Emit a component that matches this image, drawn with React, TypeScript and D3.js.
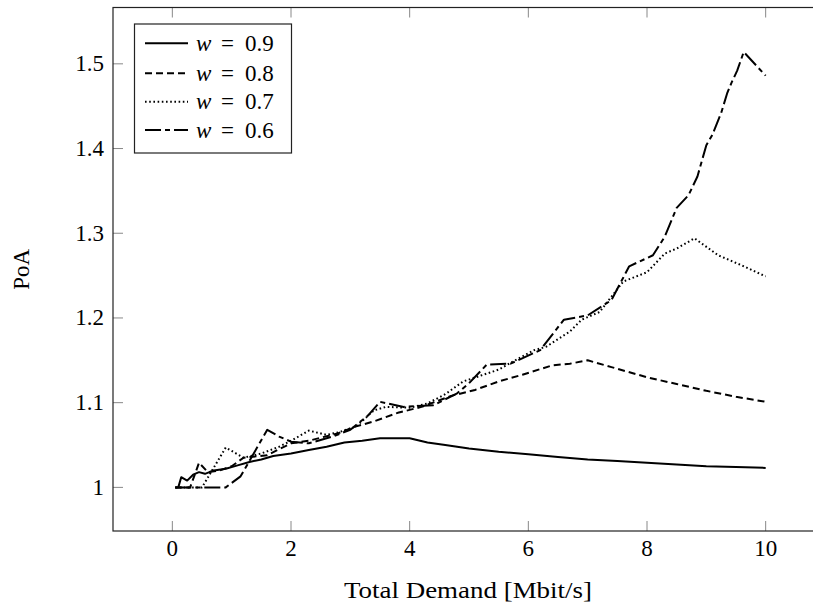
import React from "react";
import * as d3 from "d3";

const xTicks = [0, 2, 4, 6, 8, 10];
const yTicks = [1, 1.1, 1.2, 1.3, 1.4, 1.5];
const yTickLabels = ["1", "1.1", "1.2", "1.3", "1.4", "1.5"];

const labels = ["0.9", "0.8", "0.7", "0.6"];

const w09x = [0.05, 0.1, 0.15, 0.25, 0.35, 0.45, 0.55, 0.7, 0.9, 1.1, 1.3, 1.5, 1.7, 2.0, 2.3, 2.6, 2.9, 3.2, 3.5, 4.0, 4.3, 4.6, 5.0, 5.5, 6.0, 6.5, 7.0, 7.5, 8.0, 8.5, 9.0, 9.5, 10];
const w09y = [1.0, 1.0, 1.012, 1.008, 1.015, 1.018, 1.016, 1.02, 1.022, 1.026, 1.03, 1.033, 1.037, 1.04, 1.044, 1.048, 1.053, 1.055, 1.058, 1.058, 1.053, 1.05, 1.046, 1.042, 1.039, 1.036, 1.033, 1.031, 1.029, 1.027, 1.025, 1.024, 1.023];

const w08x = [0.05, 0.3, 0.45, 0.6, 0.8, 1.0, 1.2, 1.6, 2.0, 2.3, 2.8, 3.1, 3.4, 3.8, 4.2, 4.7, 5.1, 5.5, 5.9, 6.4, 6.7, 7.0, 7.4, 8.0, 8.5, 9.0, 9.5, 10];
const w08y = [1.0, 1.0, 1.029, 1.018, 1.02, 1.025, 1.035, 1.038, 1.052, 1.055, 1.064, 1.072, 1.078, 1.088, 1.095, 1.108, 1.115, 1.125, 1.133, 1.144, 1.146, 1.15, 1.142, 1.13, 1.122, 1.114, 1.107, 1.101];

const w07x = [0.05, 0.5, 0.9, 1.0, 1.2, 1.5, 1.8, 2.0, 2.3, 2.6, 2.8, 3.1, 3.4, 3.6, 4.0, 4.3, 4.6, 4.9, 5.2, 5.5, 5.7, 6.1, 6.3, 6.7, 6.9, 7.2, 7.6, 8.0, 8.3, 8.5, 8.8, 9.2, 9.6, 10];
const w07y = [1.0, 1.0, 1.047, 1.043, 1.035, 1.04, 1.048, 1.055, 1.067, 1.062, 1.065, 1.072, 1.091, 1.095, 1.094, 1.099, 1.11, 1.125, 1.132, 1.139, 1.147, 1.162, 1.166, 1.184, 1.198, 1.207, 1.243, 1.254, 1.276, 1.282, 1.294, 1.274, 1.262, 1.249];

const w06x = [0.05, 0.9, 1.15, 1.6, 1.8, 2.0, 2.3, 2.7, 3.0, 3.3, 3.5, 3.9, 4.4, 4.8, 5.0, 5.3, 5.7, 6.2, 6.6, 7.0, 7.4, 7.7, 8.1, 8.3, 8.5, 8.7, 8.85, 9.0, 9.1, 9.25, 9.35, 9.42, 9.52, 9.63, 10];
const w06y = [1.0, 1.0, 1.013, 1.068, 1.06, 1.054, 1.052, 1.06, 1.068, 1.085, 1.101, 1.095, 1.097, 1.111, 1.123, 1.145, 1.146, 1.162, 1.198, 1.203, 1.221, 1.261, 1.274, 1.296, 1.33, 1.345, 1.367, 1.404, 1.416, 1.442, 1.465, 1.477, 1.492, 1.514, 1.486];

const seriesX = [w09x, w08x, w07x, w06x];
const seriesY = [w09y, w08y, w07y, w06y];
const dashes = ["none", "7,4", "1.6,2.6", "16,4,5,4"];

const W = 813;
const H = 605;
const left = 113;
const right = 825;
const top = 7.5;
const bottom = 531;
const FONT = "'Liberation Serif', 'Times New Roman', serif";
const FS = 23;

export default function App() {
  const x = d3.scaleLinear().domain([-1, 11]).range([left, right]);
  const y = d3.scaleLinear().domain([0.9485, 1.5665]).range([bottom, top]);
  const line = d3
    .line<[number, number]>()
    .x((d) => x(d[0]))
    .y((d) => y(d[1]));

  const legX = 134.5;
  const legY = 24;
  const legW = 157;
  const legH = 129;
  const rowY = [43.3, 73.3, 101.7, 130];

  return (
    <svg
      width={W}
      height={H}
      style={{ position: "absolute", left: 0, top: 0, background: "#fff" }}
      fontFamily={FONT}
    >
      <defs>
        <clipPath id="plotclip">
          <rect x={left} y={top} width={right - left} height={bottom - top} />
        </clipPath>
      </defs>
      <rect x={0} y={0} width={W} height={H} fill="#fff" />
      {xTicks.map((t) => (
        <g key={"xt" + t}>
          <line x1={x(t)} x2={x(t)} y1={bottom} y2={bottom - 10} stroke="#888" strokeWidth={1} />
          <line x1={x(t)} x2={x(t)} y1={top} y2={top + 10} stroke="#888" strokeWidth={1} />
          <text x={x(t)} y={548} textAnchor="middle" dominantBaseline="central" fontSize={FS}>
            {t}
          </text>
        </g>
      ))}
      {yTicks.map((t, i) => (
        <g key={"yt" + t}>
          <line x1={left} x2={left + 10} y1={y(t)} y2={y(t)} stroke="#888" strokeWidth={1} />
          <line x1={right} x2={right - 10} y1={y(t)} y2={y(t)} stroke="#888" strokeWidth={1} />
          <text x={104} y={y(t)} textAnchor="end" dominantBaseline="central" fontSize={FS}>
            {yTickLabels[i]}
          </text>
        </g>
      ))}
      <g clipPath="url(#plotclip)">
        {seriesX.map((xs, i) => {
          const pts: [number, number][] = xs.map((v, j) => [v, seriesY[i][j]]);
          return (
            <path
              key={"s" + i}
              d={line(pts) || ""}
              fill="none"
              stroke="#000"
              strokeWidth={2}
              strokeDasharray={dashes[i] === "none" ? undefined : dashes[i]}
              strokeLinejoin="round"
            />
          );
        })}
      </g>
      <rect x={left} y={top} width={right - left} height={bottom - top} fill="none" stroke="#222" strokeWidth={1.2} />
      <rect x={legX} y={legY} width={legW} height={legH} fill="#fff" stroke="#222" strokeWidth={1.2} />
      {labels.map((lab, i) => (
        <g key={"lg" + i}>
          <line
            x1={145}
            x2={188}
            y1={rowY[i]}
            y2={rowY[i]}
            stroke="#000"
            strokeWidth={2}
            strokeDasharray={dashes[i] === "none" ? undefined : dashes[i]}
          />
          <text x={196} y={rowY[i]} dominantBaseline="central" fontSize={FS} fontStyle="italic">
            w
          </text>
          <text x={227.5} y={rowY[i]} textAnchor="middle" dominantBaseline="central" fontSize={FS}>
            =
          </text>
          <text x={245} y={rowY[i]} dominantBaseline="central" fontSize={FS}>
            {lab}
          </text>
        </g>
      ))}
      <text
        x={468}
        y={590}
        textAnchor="middle"
        dominantBaseline="central"
        fontSize={FS}
        textLength={248}
        lengthAdjust="spacingAndGlyphs"
      >
        Total Demand [Mbit/s]
      </text>
      <text
        transform={`translate(21, ${(top + bottom) / 2}) rotate(-90)`}
        textAnchor="middle"
        dominantBaseline="central"
        fontSize={FS}
      >
        PoA
      </text>
    </svg>
  );
}
